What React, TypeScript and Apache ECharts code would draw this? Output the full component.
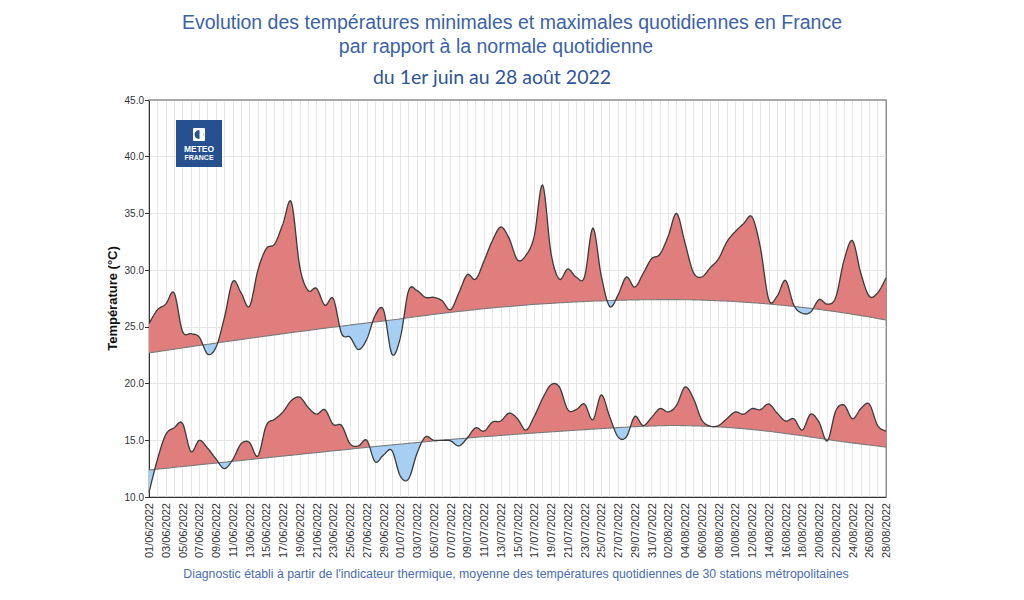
import React, { useEffect, useRef } from "react";
import * as echarts from "echarts";

const dates = [
  "01/06/2022","02/06/2022","03/06/2022","04/06/2022","05/06/2022","06/06/2022","07/06/2022","08/06/2022","09/06/2022","10/06/2022",
  "11/06/2022","12/06/2022","13/06/2022","14/06/2022","15/06/2022","16/06/2022","17/06/2022","18/06/2022","19/06/2022","20/06/2022",
  "21/06/2022","22/06/2022","23/06/2022","24/06/2022","25/06/2022","26/06/2022","27/06/2022","28/06/2022","29/06/2022","30/06/2022",
  "01/07/2022","02/07/2022","03/07/2022","04/07/2022","05/07/2022","06/07/2022","07/07/2022","08/07/2022","09/07/2022","10/07/2022",
  "11/07/2022","12/07/2022","13/07/2022","14/07/2022","15/07/2022","16/07/2022","17/07/2022","18/07/2022","19/07/2022","20/07/2022",
  "21/07/2022","22/07/2022","23/07/2022","24/07/2022","25/07/2022","26/07/2022","27/07/2022","28/07/2022","29/07/2022","30/07/2022",
  "31/07/2022","01/08/2022","02/08/2022","03/08/2022","04/08/2022","05/08/2022","06/08/2022","07/08/2022","08/08/2022","09/08/2022",
  "10/08/2022","11/08/2022","12/08/2022","13/08/2022","14/08/2022","15/08/2022","16/08/2022","17/08/2022","18/08/2022","19/08/2022",
  "20/08/2022","21/08/2022","22/08/2022","23/08/2022","24/08/2022","25/08/2022","26/08/2022","27/08/2022","28/08/2022",
];

// Daily maximum temperature (observed)
const tmax = [
  25.3, 26.5, 27.0, 28.0, 24.6, 24.4, 24.1, 22.6, 23.2, 25.8,
  29.0, 28.0, 26.8, 30.0, 31.9, 32.3, 34.1, 36.0, 30.3, 28.2,
  28.4, 26.9, 27.5, 24.4, 24.1, 23.0, 23.9, 26.0, 26.5, 22.6,
  24.0, 28.2, 28.2, 27.6, 27.6, 27.3, 26.5, 28.0, 29.6, 29.2,
  30.8, 32.6, 33.8, 32.8, 30.9, 31.3, 33.0, 37.5, 31.5, 29.2,
  30.1, 29.4, 29.4, 33.7, 29.5, 26.8, 27.8, 29.4, 28.5, 29.7,
  31.0, 31.4, 33.0, 35.0, 32.4, 29.8, 29.4, 30.2, 31.0, 32.5,
  33.4, 34.1, 34.7, 32.0, 27.4, 27.7, 29.1, 26.9, 26.2, 26.3,
  27.4, 27.0, 27.6, 30.9, 32.6, 29.7, 27.7, 28.0, 29.3,
];

// Daily maximum temperature (normal)
const tmaxNormal = [
  22.70, 22.81, 22.92, 23.03, 23.14, 23.25, 23.36, 23.46, 23.57, 23.68,
  23.78, 23.88, 23.99, 24.09, 24.19, 24.29, 24.39, 24.49, 24.59, 24.68,
  24.78, 24.88, 24.97, 25.06, 25.16, 25.25, 25.34, 25.43, 25.52, 25.61,
  25.70, 25.81, 25.91, 26.00, 26.10, 26.19, 26.28, 26.36, 26.44, 26.52,
  26.60, 26.67, 26.74, 26.80, 26.86, 26.92, 26.98, 27.03, 27.07, 27.12,
  27.16, 27.20, 27.23, 27.27, 27.29, 27.32, 27.34, 27.36, 27.37, 27.39,
  27.39, 27.40, 27.40, 27.40, 27.39, 27.38, 27.36, 27.33, 27.30, 27.27,
  27.23, 27.18, 27.13, 27.08, 27.02, 26.95, 26.88, 26.80, 26.72, 26.63,
  26.54, 26.44, 26.34, 26.23, 26.11, 25.99, 25.87, 25.74, 25.60,
];

// Daily minimum temperature (observed)
const tmin = [
  10.4, 13.3, 15.5, 16.1, 16.5, 14.0, 15.0, 14.3, 13.35, 12.5,
  13.3, 14.7, 14.8, 13.6, 16.3, 16.85, 17.5, 18.5, 18.8, 17.9,
  17.3, 17.7, 16.4, 16.3, 14.7, 14.5, 15.0, 13.1, 13.7, 14.1,
  11.85, 11.6, 13.85, 15.3, 15.0, 15.0, 14.95, 14.5, 15.2, 16.1,
  15.8, 16.6, 16.7, 17.4, 16.9, 15.9, 17.1, 18.7, 19.9, 19.7,
  17.7, 17.7, 18.2, 16.8, 19.0, 17.1, 15.3, 15.3, 17.1, 16.3,
  17.0, 17.8, 17.5, 18.1, 19.7, 18.7, 16.8, 16.25, 16.3, 16.9,
  17.5, 17.3, 17.8, 17.7, 18.2, 17.4, 16.7, 16.9, 15.9, 17.3,
  16.6, 14.95, 17.6, 18.1, 16.9, 17.8, 18.2, 16.3, 15.8,
];

// Daily minimum temperature (normal)
const tminNormal = [
  12.38, 12.46, 12.53, 12.61, 12.69, 12.76, 12.84, 12.92, 12.99, 13.07,
  13.15, 13.22, 13.30, 13.38, 13.45, 13.53, 13.61, 13.68, 13.76, 13.84,
  13.91, 13.99, 14.07, 14.14, 14.22, 14.30, 14.37, 14.45, 14.52, 14.59,
  14.66, 14.73, 14.80, 14.87, 14.94, 15.01, 15.07, 15.14, 15.20, 15.26,
  15.32, 15.37, 15.43, 15.48, 15.54, 15.59, 15.64, 15.69, 15.74, 15.79,
  15.84, 15.89, 15.93, 15.98, 16.03, 16.07, 16.12, 16.16, 16.20, 16.23,
  16.26, 16.28, 16.30, 16.30, 16.29, 16.27, 16.25, 16.22, 16.18, 16.13,
  16.08, 16.02, 15.95, 15.87, 15.79, 15.70, 15.60, 15.50, 15.40, 15.29,
  15.18, 15.07, 14.96, 14.86, 14.76, 14.67, 14.58, 14.49, 14.40,
];

const Y_MIN = 10;
const Y_MAX = 45;
const Y_STEP = 5;

const RED = "#e07d7d";
const BLUE = "#a7cff4";
const OBS_LINE = "#3b3b3b";
const NORM_LINE = "#7a7a7a";

function catmull(pts: number[][], sub: number): number[][] {
  const out: number[][] = [];
  const n = pts.length;
  for (let i = 0; i < n - 1; i++) {
    const p0 = pts[Math.max(i - 1, 0)];
    const p1 = pts[i];
    const p2 = pts[i + 1];
    const p3 = pts[Math.min(i + 2, n - 1)];
    for (let s = 0; s < sub; s++) {
      const t = s / sub;
      const t2 = t * t;
      const t3 = t2 * t;
      const f = (a: number, b: number, c: number, d: number) =>
        0.5 * (2 * b + (-a + c) * t + (2 * a - 5 * b + 4 * c - d) * t2 + (-a + 3 * b - 3 * c + d) * t3);
      out.push([f(p0[0], p1[0], p2[0], p3[0]), f(p0[1], p1[1], p2[1], p3[1])]);
    }
  }
  out.push(pts[n - 1]);
  return out;
}

function bandRenderer(obs: number[], norm: number[]) {
  return (params: any, api: any) => {
    if (params.dataIndex !== 0) return null;
    const P = obs.map((v, i) => api.coord([i, v]));
    const N = norm.map((v, i) => api.coord([i, v]));
    const sp = catmull(P, 8);
    const sn = catmull(N, 8);
    const children: any[] = [];
    const flush = (a: number[][], b: number[][], sign: number) => {
      if (a.length < 2) return;
      const pts = a.concat(b.slice().reverse());
      children.push({
        type: "polygon",
        shape: { points: pts },
        style: { fill: sign > 0 ? RED : BLUE, stroke: null },
        silent: true,
      });
    };
    let sign = sn[0][1] - sp[0][1] >= 0 ? 1 : -1;
    let curA: number[][] = [sp[0]];
    let curB: number[][] = [sn[0]];
    for (let k = 1; k < sp.length; k++) {
      const d0 = sn[k - 1][1] - sp[k - 1][1];
      const d1 = sn[k][1] - sp[k][1];
      const s1 = d1 >= 0 ? 1 : -1;
      if (s1 !== sign && d0 !== d1) {
        const t = d0 / (d0 - d1);
        const cx = sp[k - 1][0] + t * (sp[k][0] - sp[k - 1][0]);
        const cy = sp[k - 1][1] + t * (sp[k][1] - sp[k - 1][1]);
        curA.push([cx, cy]);
        curB.push([cx, cy]);
        flush(curA, curB, sign);
        curA = [[cx, cy]];
        curB = [[cx, cy]];
        sign = s1;
      }
      curA.push(sp[k]);
      curB.push(sn[k]);
    }
    flush(curA, curB, sign);
    children.push({
      type: "polyline",
      shape: { points: sn },
      style: { stroke: NORM_LINE, lineWidth: 1.1, fill: null },
      silent: true,
    });
    children.push({
      type: "polyline",
      shape: { points: sp },
      style: { stroke: OBS_LINE, lineWidth: 1.3, fill: null },
      silent: true,
    });
    return { type: "group", children };
  };
}

export default function App() {
  const ref = useRef<HTMLDivElement>(null);

  useEffect(() => {
    if (!ref.current) return;
    const chart = echarts.init(ref.current, null, { renderer: "svg" });
    const titleFont = "Liberation Sans, Arial, sans-serif";
    const LOGO_BLUE = "#26508f";
    chart.setOption({
      animation: false,
      backgroundColor: "#ffffff",
      title: [
        {
          text: "Evolution des températures minimales et maximales quotidiennes en France",
          left: 507,
          textAlign: "center",
          top: 7,
          textStyle: { fontFamily: titleFont, fontSize: 19.5, fontWeight: "normal", color: "#3b62a6" },
        },
        {
          text: "par rapport à la normale quotidienne",
          left: 491,
          textAlign: "center",
          top: 31,
          textStyle: { fontFamily: titleFont, fontSize: 19.5, fontWeight: "normal", color: "#3b62a6" },
        },
        {
          text: "du 1er juin au 28 août 2022",
          left: 487,
          textAlign: "center",
          top: 61,
          textStyle: { fontFamily: "Lato, Open Sans, sans-serif", fontSize: 19.5, fontWeight: "normal", color: "#2f5597" },
        },
        {
          text: "Diagnostic établi à partir de l'indicateur thermique, moyenne des températures quotidiennes de 30 stations métropolitaines",
          left: 511,
          textAlign: "center",
          top: 563,
          textStyle: { fontFamily: titleFont, fontSize: 12.3, fontWeight: "normal", color: "#4a6db3" },
        },
      ],
      grid: {
        left: 149,
        right: 138,
        top: 100,
        bottom: 103,
        show: true,
        borderColor: "#8f8f8f",
        borderWidth: 1,
      },
      xAxis: [
        {
          type: "category",
          data: dates,
          boundaryGap: false,
          axisLine: { lineStyle: { color: "#333333", width: 1 } },
          axisTick: { show: false },
          axisLabel: {
            interval: 1,
            rotate: 90,
            fontSize: 11,
            color: "#333333",
            fontFamily: titleFont,
            margin: 6,
          },
          splitLine: { show: true, interval: 0, lineStyle: { color: "#e6e6e6", width: 1 } },
        },
        {
          type: "category",
          data: dates,
          boundaryGap: false,
          position: "top",
          axisLine: { lineStyle: { color: "#a8a8a8", width: 2 } },
          axisTick: { show: false },
          axisLabel: { show: false },
          splitLine: { show: false },
        },
      ],
      yAxis: [
        {
          type: "value",
          min: Y_MIN,
          max: Y_MAX,
          interval: Y_STEP,
          name: "Température (°C)",
          nameLocation: "middle",
          nameGap: 30,
          nameMoveOverlap: false,
          nameTextStyle: { fontFamily: titleFont, fontSize: 13, fontWeight: "bold", color: "#111111" },
          axisLine: { show: true, lineStyle: { color: "#333333" } },
          axisTick: { show: true, length: 4, lineStyle: { color: "#333333" } },
          axisLabel: {
            formatter: (v: number) => v.toFixed(1),
            fontSize: 10,
            color: "#333333",
            fontFamily: titleFont,
            margin: 5,
          },
          splitLine: { show: true, lineStyle: { color: "#e6e6e6" } },
        },
        {
          type: "value",
          min: Y_MIN,
          max: Y_MAX,
          interval: Y_STEP,
          position: "right",
          axisLine: { show: true, lineStyle: { color: "#8f8f8f" } },
          axisTick: { show: false },
          axisLabel: { show: false },
          splitLine: { show: false },
        },
      ],
      series: [
        {
          type: "custom",
          name: "Tmax",
          xAxisIndex: 0,
          yAxisIndex: 0,
          data: tmax.map((v, i) => [i, v]),
          encode: { x: 0, y: 1 },
          renderItem: bandRenderer(tmax, tmaxNormal),
          silent: true,
          z: 3,
        },
        {
          type: "custom",
          name: "Tmin",
          xAxisIndex: 0,
          yAxisIndex: 0,
          data: tmin.map((v, i) => [i, v]),
          encode: { x: 0, y: 1 },
          renderItem: bandRenderer(tmin, tminNormal),
          silent: true,
          z: 3,
        },
      ],
      graphic: [
        {
          type: "group",
          left: 176,
          top: 120,
          z: 100,
          children: [
            { type: "rect", z: 100, shape: { x: 0, y: 0, width: 46, height: 47 }, style: { fill: LOGO_BLUE } },
            { type: "rect", z: 101, shape: { x: 17, y: 8, width: 12, height: 13, r: 1 }, style: { fill: "#ffffff" } },
            { type: "circle", z: 102, shape: { cx: 23, cy: 14.5, r: 4.4 }, style: { fill: LOGO_BLUE } },
            { type: "rect", z: 103, shape: { x: 23.5, y: 9.5, width: 3.5, height: 10 }, style: { fill: "#ffffff" } },
            {
              type: "text",
              z: 104,
              x: 23,
              y: 29,
              style: { text: "METEO", fill: "#ffffff", fontSize: 8.5, fontWeight: "bold", fontFamily: titleFont, align: "center", verticalAlign: "middle" },
            },
            {
              type: "text",
              z: 104,
              x: 23,
              y: 37,
              style: { text: "FRANCE", fill: "#ffffff", fontSize: 7, fontWeight: "bold", fontFamily: titleFont, align: "center", verticalAlign: "middle" },
            },
          ],
        },
      ],
    });
    return () => chart.dispose();
  }, []);

  return (
    <div
      ref={ref}
      style={{ position: "fixed", left: 0, top: 0, width: 1024, height: 600, background: "#fff" }}
    />
  );
}
